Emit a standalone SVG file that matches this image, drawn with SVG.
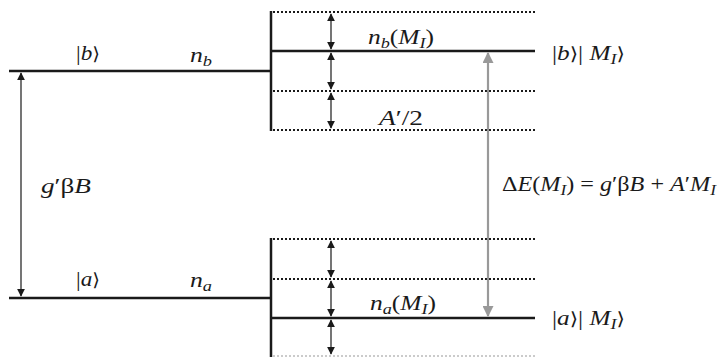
<svg xmlns="http://www.w3.org/2000/svg" width="718" height="357" viewBox="0 0 718 357">
<style>
.lv{stroke:#1a1a1a;stroke-width:2.5;fill:none}
.dt{stroke:#1a1a1a;stroke-width:2;stroke-dasharray:2 2;fill:none}
.ar{stroke:#1a1a1a;stroke-width:1.2;fill:none}
text{font-family:'Liberation Serif','DejaVu Serif',serif;font-size:21px;fill:#1a1a1a}
.i{font-style:italic}
.s{font-size:15px;font-style:italic}
.b{font-family:'DejaVu Serif',serif;font-size:18px}
</style>
<defs>
<marker id="ah" viewBox="0 0 10 10" refX="9" refY="5" markerWidth="8" markerHeight="8" markerUnits="userSpaceOnUse" orient="auto-start-reverse"><path d="M0,0L10,5L0,10Z" fill="#1a1a1a"/></marker>
<marker id="gh" viewBox="0 0 10 10" refX="9" refY="5" markerWidth="11" markerHeight="11" markerUnits="userSpaceOnUse" orient="auto-start-reverse"><path d="M0,0L10,5L0,10Z" fill="#999"/></marker>
</defs>
<g id="level-b">
<line class="lv" x1="9" y1="71" x2="271" y2="71"/>
<text x="76" y="60" textLength="24" lengthAdjust="spacingAndGlyphs">|<tspan class="i">b</tspan><tspan class="b">⟩</tspan></text>
<text class="i" x="190" y="62" textLength="22" lengthAdjust="spacingAndGlyphs">n<tspan class="s" dy="4">b</tspan></text>
</g>
<g id="level-a">
<line class="lv" x1="9" y1="298" x2="271" y2="298"/>
<text x="76" y="286" textLength="24" lengthAdjust="spacingAndGlyphs">|<tspan class="i">a</tspan><tspan class="b">⟩</tspan></text>
<text class="i" x="190" y="287" textLength="22" lengthAdjust="spacingAndGlyphs">n<tspan class="s" dy="4">a</tspan></text>
</g>
<g id="split-b">
<line class="lv" x1="271" y1="11" x2="271" y2="131"/>
<line class="dt" x1="273" y1="12" x2="535" y2="12"/>
<line class="lv" x1="271" y1="51" x2="535" y2="51"/>
<line class="dt" x1="273" y1="91" x2="535" y2="91"/>
<line class="dt" x1="273" y1="130" x2="535" y2="130"/>
<text x="368" y="44" textLength="66" lengthAdjust="spacingAndGlyphs"><tspan class="i">n</tspan><tspan class="s" dy="4">b</tspan><tspan dy="-4">(</tspan><tspan class="i">M</tspan><tspan class="s" dy="4">I</tspan><tspan dy="-4">)</tspan></text>
<text x="379" y="125" textLength="44" lengthAdjust="spacingAndGlyphs"><tspan class="i">A</tspan>′/2</text>
<text x="552" y="60" textLength="73" lengthAdjust="spacingAndGlyphs">|<tspan class="i">b</tspan><tspan class="b">⟩</tspan>| <tspan class="i">M</tspan><tspan class="s" dy="4">I</tspan><tspan class="b" dy="-4">⟩</tspan></text>
</g>
<g id="split-a">
<line class="lv" x1="271" y1="238" x2="271" y2="357"/>
<line class="dt" x1="273" y1="239" x2="535" y2="239"/>
<line class="dt" x1="273" y1="279" x2="535" y2="279"/>
<line class="lv" x1="271" y1="318" x2="535" y2="318"/>
<line x1="273" y1="356" x2="535" y2="356" stroke="#bbb" stroke-width="1.5" stroke-dasharray="2 2"/>
<text x="370" y="310" textLength="66" lengthAdjust="spacingAndGlyphs"><tspan class="i">n</tspan><tspan class="s" dy="4">a</tspan><tspan dy="-4">(</tspan><tspan class="i">M</tspan><tspan class="s" dy="4">I</tspan><tspan dy="-4">)</tspan></text>
<text x="552" y="325" textLength="73" lengthAdjust="spacingAndGlyphs">|<tspan class="i">a</tspan><tspan class="b">⟩</tspan>| <tspan class="i">M</tspan><tspan class="s" dy="4">I</tspan><tspan class="b" dy="-4">⟩</tspan></text>
</g>
<g id="labels">
<text x="41" y="193" textLength="50" lengthAdjust="spacingAndGlyphs"><tspan class="i">g</tspan>′β<tspan class="i">B</tspan></text>
<text x="502" y="191" textLength="214" lengthAdjust="spacingAndGlyphs">Δ<tspan class="i">E</tspan>(<tspan class="i">M</tspan><tspan class="s" dy="4">I</tspan><tspan dy="-4">) = </tspan><tspan class="i">g</tspan>′β<tspan class="i">B</tspan> + <tspan class="i">A</tspan>′<tspan class="i">M</tspan><tspan class="s" dy="4">I</tspan></text>
</g>
<g id="connectors">
<line class="ar" x1="21" y1="73" x2="21" y2="296" marker-start="url(#ah)" marker-end="url(#ah)"/>
<line x1="488" y1="53" x2="488" y2="316" stroke="#999" stroke-width="2.2" marker-start="url(#gh)" marker-end="url(#gh)"/>
<line class="ar" x1="331" y1="14" x2="331" y2="49" marker-start="url(#ah)" marker-end="url(#ah)"/>
<line class="ar" x1="331" y1="53" x2="331" y2="89" marker-start="url(#ah)" marker-end="url(#ah)"/>
<line class="ar" x1="331" y1="93" x2="331" y2="128" marker-start="url(#ah)" marker-end="url(#ah)"/>
<line class="ar" x1="331" y1="241" x2="331" y2="277" marker-start="url(#ah)" marker-end="url(#ah)"/>
<line class="ar" x1="331" y1="281" x2="331" y2="316" marker-start="url(#ah)" marker-end="url(#ah)"/>
<line class="ar" x1="331" y1="320" x2="331" y2="354" marker-start="url(#ah)" marker-end="url(#ah)"/>
</g>
</svg>
